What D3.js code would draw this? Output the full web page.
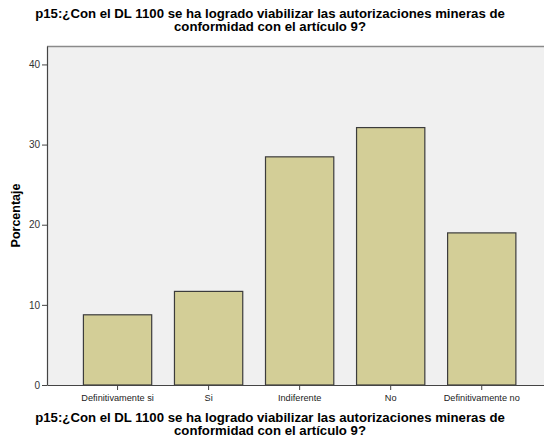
<!DOCTYPE html>
<html>
<head>
<meta charset="utf-8">
<script src="https://cdn.jsdelivr.net/npm/d3@7"></script>
<style>
  body { margin: 0; background: #fff; }
  svg { display: block; font-family: 'Liberation Sans', Arial, sans-serif; }
</style>
</head>
<body>
<svg width="544" height="439"></svg>
<script>
const categories = ['Definitivamente si', 'Si', 'Indiferente', 'No', 'Definitivamente no']
const percentages = [8.76, 11.68, 28.47, 32.12, 18.98]
const yTicks = [0, 10, 20, 30, 40]
const titleLines = [
  'p15:¿Con el DL 1100 se ha logrado viabilizar las autorizaciones mineras de',
  'conformidad con el artículo 9?'
]
const yTitle = 'Porcentaje'

const margin = { top: 46, right: -16, bottom: 54, left: 47 },
  width = 544 - margin.left - margin.right,
  height = 439 - margin.top - margin.bottom

const svg = d3.select('svg')

const g = svg
  .append('g')
  .attr('transform', 'translate(' + margin.left + ',' + margin.top + ')')

const xScale = d3
  .scaleBand()
  .domain(categories)
  .range([0, 505.3])
  .paddingInner(0.25)
  .paddingOuter(0.4)

const yScale = d3.scaleLinear().domain([0, 42.3]).range([height, 0])

// plot background + frame
g.append('rect')
  .attr('width', width)
  .attr('height', height)
  .attr('fill', '#f0f0f0')
g.append('line')
  .attr('x1', 0)
  .attr('x2', width)
  .attr('y1', 0.5)
  .attr('y2', 0.5)
  .attr('stroke', '#8a8a8a')
  .attr('stroke-width', 1.5)

g.selectAll('.bar')
  .data(percentages)
  .enter()
  .append('rect')
  .attr('class', 'bar')
  .attr('x', (d, i) => xScale(categories[i]))
  .attr('y', (d) => yScale(d))
  .attr('width', xScale.bandwidth())
  .attr('height', (d) => height - yScale(d))
  .attr('fill', '#d3ce97')
  .attr('stroke', '#3c3c3c')
  .attr('stroke-width', 1.2)

const xAxis = d3.axisBottom(xScale).tickSizeInner(5).tickSizeOuter(0).tickPadding(4)
const yAxis = d3.axisLeft(yScale).tickValues(yTicks).tickSizeInner(5).tickSizeOuter(0).tickPadding(2)

const xg = g.append('g').attr('transform', `translate(0, ${height})`).call(xAxis)
xg.select('.domain').attr('stroke', '#444').attr('stroke-width', 1.2)
xg.selectAll('.tick line').attr('stroke', '#444')
xg.selectAll('.tick text').attr('font-size', 9.2).attr('fill', '#222')

const yg = g.append('g').call(yAxis)
yg.select('.domain').attr('stroke', '#444').attr('stroke-width', 1.2)
yg.selectAll('.tick line').attr('stroke', '#444')
yg.selectAll('.tick text').attr('font-size', 10).attr('fill', '#333')

// titles (same text above the chart and under the x axis)
svg.append('g')
  .selectAll('text')
  .data(titleLines)
  .enter()
  .append('text')
  .attr('x', 270)
  .attr('y', (d, i) => 17.5 + i * 13.5)
  .attr('text-anchor', 'middle')
  .attr('font-size', 13.2)
  .attr('font-weight', 'bold')
  .text((d) => d)

svg.append('g')
  .selectAll('text')
  .data(titleLines)
  .enter()
  .append('text')
  .attr('x', 270)
  .attr('y', (d, i) => 421.5 + i * 13.5)
  .attr('text-anchor', 'middle')
  .attr('font-size', 13.2)
  .attr('font-weight', 'bold')
  .text((d) => d)

svg.append('text')
  .attr('transform', 'translate(20,' + (margin.top + height / 2) + ') rotate(-90)')
  .attr('text-anchor', 'middle')
  .attr('font-size', 12.5)
  .attr('font-weight', 'bold')
  .text(yTitle)
</script>
</body>
</html>
